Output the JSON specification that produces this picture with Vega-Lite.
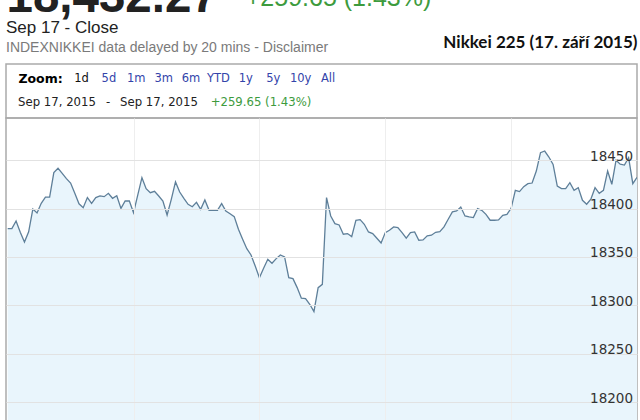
{
  "$schema": "https://vega.github.io/schema/vega-lite/v6.json",
  "background": "white",
  "padding": {"left": 5, "right": 4, "top": -27, "bottom": 0},
  "bounds": "flush",
  "datasets": {
    "nikkei": [
      {"m": 0, "v": 18379.3}, {"m": 2, "v": 18379.3}, {"m": 4, "v": 18387.2}, {"m": 6, "v": 18375.5}, {"m": 8, "v": 18365.5},
      {"m": 10, "v": 18376.0}, {"m": 12, "v": 18399.5}, {"m": 14, "v": 18395.5}, {"m": 16, "v": 18405.5}, {"m": 18, "v": 18412.0},
      {"m": 20, "v": 18412.0}, {"m": 22, "v": 18437.2}, {"m": 24, "v": 18441.7}, {"m": 26, "v": 18436.5}, {"m": 28, "v": 18431.0},
      {"m": 30, "v": 18426.5}, {"m": 32, "v": 18416.0}, {"m": 34, "v": 18405.0}, {"m": 36, "v": 18401.0}, {"m": 38, "v": 18411.4},
      {"m": 40, "v": 18405.5}, {"m": 42, "v": 18411.4}, {"m": 44, "v": 18413.1}, {"m": 46, "v": 18412.4}, {"m": 48, "v": 18415.8},
      {"m": 50, "v": 18410.7}, {"m": 52, "v": 18413.4}, {"m": 54, "v": 18400.3}, {"m": 56, "v": 18407.9}, {"m": 58, "v": 18407.9},
      {"m": 60, "v": 18395.8}, {"m": 62, "v": 18414.0}, {"m": 64, "v": 18432.0}, {"m": 66, "v": 18420.7}, {"m": 68, "v": 18416.5},
      {"m": 70, "v": 18417.9}, {"m": 72, "v": 18413.1}, {"m": 74, "v": 18407.9}, {"m": 76, "v": 18393.4}, {"m": 78, "v": 18409.6},
      {"m": 80, "v": 18427.6}, {"m": 82, "v": 18417.2}, {"m": 84, "v": 18410.7}, {"m": 86, "v": 18404.5}, {"m": 88, "v": 18402.0},
      {"m": 90, "v": 18406.5}, {"m": 92, "v": 18399.3}, {"m": 94, "v": 18409.0}, {"m": 96, "v": 18398.3}, {"m": 98, "v": 18398.3},
      {"m": 100, "v": 18398.3}, {"m": 102, "v": 18405.2}, {"m": 104, "v": 18397.6}, {"m": 106, "v": 18394.8}, {"m": 108, "v": 18391.7},
      {"m": 110, "v": 18378.6}, {"m": 112, "v": 18368.3}, {"m": 114, "v": 18358.6}, {"m": 116, "v": 18352.1}, {"m": 118, "v": 18340.7},
      {"m": 120, "v": 18328.6}, {"m": 122, "v": 18338.3}, {"m": 124, "v": 18347.6}, {"m": 126, "v": 18343.5}, {"m": 128, "v": 18348.3},
      {"m": 130, "v": 18352.1}, {"m": 132, "v": 18350.0}, {"m": 134, "v": 18328.6}, {"m": 136, "v": 18327.6}, {"m": 138, "v": 18318.3},
      {"m": 140, "v": 18307.3}, {"m": 142, "v": 18306.9}, {"m": 144, "v": 18301.1}, {"m": 146, "v": 18293.5}, {"m": 148, "v": 18318.3},
      {"m": 150, "v": 18321.7}, {"m": 152, "v": 18411.4}, {"m": 154, "v": 18392.4}, {"m": 156, "v": 18384.5}, {"m": 158, "v": 18383.1},
      {"m": 160, "v": 18373.5}, {"m": 162, "v": 18374.2}, {"m": 164, "v": 18371.1}, {"m": 166, "v": 18388.0}, {"m": 168, "v": 18388.6},
      {"m": 170, "v": 18383.8}, {"m": 172, "v": 18375.9}, {"m": 174, "v": 18374.2}, {"m": 176, "v": 18369.4}, {"m": 178, "v": 18364.5},
      {"m": 180, "v": 18375.2}, {"m": 182, "v": 18377.6}, {"m": 184, "v": 18381.1}, {"m": 186, "v": 18380.4}, {"m": 188, "v": 18375.2},
      {"m": 190, "v": 18369.4}, {"m": 192, "v": 18375.2}, {"m": 194, "v": 18375.9}, {"m": 196, "v": 18367.3}, {"m": 198, "v": 18367.6},
      {"m": 200, "v": 18371.8}, {"m": 202, "v": 18372.5}, {"m": 204, "v": 18375.5}, {"m": 206, "v": 18376.2}, {"m": 208, "v": 18381.1},
      {"m": 210, "v": 18389.0}, {"m": 212, "v": 18396.6}, {"m": 214, "v": 18397.6}, {"m": 216, "v": 18401.7}, {"m": 218, "v": 18392.4},
      {"m": 220, "v": 18391.4}, {"m": 222, "v": 18390.7}, {"m": 224, "v": 18400.0}, {"m": 226, "v": 18398.3}, {"m": 228, "v": 18394.1},
      {"m": 230, "v": 18388.0}, {"m": 232, "v": 18388.0}, {"m": 234, "v": 18388.3}, {"m": 236, "v": 18393.1}, {"m": 238, "v": 18394.1},
      {"m": 240, "v": 18400.3}, {"m": 242, "v": 18419.0}, {"m": 244, "v": 18417.6}, {"m": 246, "v": 18422.7}, {"m": 248, "v": 18425.8},
      {"m": 250, "v": 18426.5}, {"m": 252, "v": 18438.9}, {"m": 254, "v": 18457.9}, {"m": 256, "v": 18459.6}, {"m": 258, "v": 18453.4},
      {"m": 260, "v": 18445.8}, {"m": 262, "v": 18423.4}, {"m": 264, "v": 18420.7}, {"m": 266, "v": 18420.7}, {"m": 268, "v": 18426.9},
      {"m": 270, "v": 18419.0}, {"m": 272, "v": 18421.7}, {"m": 274, "v": 18408.6}, {"m": 276, "v": 18404.5}, {"m": 278, "v": 18409.7},
      {"m": 280, "v": 18421.7}, {"m": 282, "v": 18415.9}, {"m": 284, "v": 18419.0}, {"m": 286, "v": 18438.9}, {"m": 288, "v": 18425.2},
      {"m": 290, "v": 18450.0}, {"m": 292, "v": 18445.9}, {"m": 294, "v": 18445.1}, {"m": 296, "v": 18452.7}, {"m": 298, "v": 18425.8},
      {"m": 300, "v": 18432.27}
    ]
  },
  "spacing": 0,
  "vconcat": [
    {
      "width": 631,
      "height": 40,
      "view": {"stroke": null},
      "title": {
        "text": "+259.65 (1.43%)",
        "anchor": "middle",
        "dx": 17,
        "offset": -58,
        "baseline": "alphabetic",
        "font": "Liberation Sans",
        "fontSize": 25,
        "fontWeight": "normal",
        "color": "#3d9b3d"
      },
      "data": {"values": [{"k": "price"}]},
      "mark": {"type": "text"},
      "encoding": {
        "x": {
          "field": "k", "type": "nominal",
          "scale": {"type": "point", "padding": 0},
          "axis": {
            "orient": "top", "title": "18,432.27", "titleAnchor": "start",
            "labels": false, "ticks": false, "domain": false, "grid": false,
            "titleFont": "Liberation Sans", "titleFontSize": 47.5, "titleFontWeight": "bold", "titleColor": "#222222",
            "titlePadding": 13, "titleBaseline": "alphabetic"
          }
        },
        "text": {"value": ""}
      }
    },
    {
      "width": 631,
      "height": 54,
      "title": {
        "text": "Sep 17 - Close",
        "subtitle": "INDEXNIKKEI data delayed by 20 mins - Disclaimer",
        "anchor": "start",
        "offset": -22,
        "font": "Liberation Sans",
        "fontSize": 17,
        "fontWeight": "normal",
        "color": "#222222",
        "subtitleFont": "Liberation Sans",
        "subtitleFontSize": 14,
        "subtitleColor": "#7a7a7a",
        "subtitlePadding": 4
      },
      "layer": [
        {
          "data": {"values": [{"row": "zoom", "tok": "Zoom:"}]},
          "mark": {"type": "text", "font": "DejaVu Sans", "fontSize": 12.5, "fontWeight": "bold", "color": "#000000", "align": "center", "baseline": "middle"},
          "encoding": {
            "x": {
              "field": "tok", "type": "nominal",
              "scale": {"type": "point", "padding": 0, "align": 0.0547},
              "axis": {
                "orient": "top", "title": "Nikkei 225 (17. září 2015)", "titleAnchor": "end",
                "labels": false, "ticks": false, "domain": false, "grid": false,
                "titleFont": "Lato", "titleFontSize": 17, "titleFontWeight": "bold", "titleColor": "#111111",
                "titlePadding": 16.5, "titleBaseline": "alphabetic"
              }
            },
            "y": {"field": "row", "type": "nominal", "scale": {"type": "point", "padding": 0, "domain": ["zoom", "date"], "range": [15, 38]}, "axis": null},
            "text": {"field": "tok"}
          }
        },
        {
          "data": {"values": [
            {"row": "zoom", "tok": "1d", "state": "current"},
            {"row": "zoom", "tok": "5d", "state": "link"},
            {"row": "zoom", "tok": "1m", "state": "link"},
            {"row": "zoom", "tok": "3m", "state": "link"},
            {"row": "zoom", "tok": "6m", "state": "link"},
            {"row": "zoom", "tok": "YTD", "state": "link"},
            {"row": "zoom", "tok": "1y", "state": "link"},
            {"row": "zoom", "tok": "5y", "state": "link"},
            {"row": "zoom", "tok": "10y", "state": "link"},
            {"row": "zoom", "tok": "All", "state": "link"}
          ]},
          "mark": {"type": "text", "font": "DejaVu Sans", "fontSize": 11.5, "align": "center", "baseline": "middle"},
          "encoding": {
            "x": {"field": "tok", "type": "nominal", "scale": {"type": "point", "padding": 0, "domain": ["1d", "5d", "1m", "3m", "6m", "YTD", "1y", "5y", "10y", "All"], "range": [75.5, 322]}, "axis": null},
            "y": {"field": "row", "type": "nominal", "scale": {"type": "point", "padding": 0, "domain": ["zoom", "date"], "range": [15, 38]}, "axis": null},
            "text": {"field": "tok"},
            "color": {"field": "state", "type": "nominal", "scale": {"domain": ["current", "link"], "range": ["#111111", "#3344aa"]}, "legend": null}
          }
        },
        {
          "data": {"values": [
            {"row": "date", "part": "from", "label": "Sep 17, 2015"},
            {"row": "date", "part": "dash", "label": "-"},
            {"row": "date", "part": "to", "label": "Sep 17, 2015"},
            {"row": "date", "part": "change", "label": "+259.65 (1.43%)"}
          ]},
          "mark": {"type": "text", "font": "DejaVu Sans", "fontSize": 11.7, "align": "center", "baseline": "middle"},
          "encoding": {
            "x": {"field": "part", "type": "nominal", "scale": {"type": "point", "padding": 0, "domain": ["from", "dash", "to", "gap", "change"], "range": [51, 255]}, "axis": null},
            "y": {"field": "row", "type": "nominal", "scale": {"type": "point", "padding": 0, "domain": ["zoom", "date"], "range": [15, 38]}, "axis": null},
            "text": {"field": "label"},
            "color": {"field": "part", "type": "nominal", "scale": {"domain": ["from", "dash", "to", "change"], "range": ["#222222", "#222222", "#222222", "#3d9b3d"]}, "legend": null}
          }
        }
      ],
      "resolve": {"scale": {"x": "independent", "color": "independent"}}
    },
    {
      "width": 631,
      "height": 305,
      "encoding": {
        "x": {
          "field": "m", "type": "quantitative",
          "scale": {"domain": [-0.8, 300], "nice": false, "zero": false},
          "axis": {"orient": "bottom", "values": [60, 120, 180, 240], "grid": true, "gridColor": "#eeeeee", "labels": false, "ticks": false, "domain": false, "title": null, "zindex": 1}
        },
        "y": {
          "field": "v", "type": "quantitative",
          "scale": {"domain": [18178.28, 18493.75], "nice": false, "zero": false},
          "axis": {
            "orient": "right", "values": [18200, 18250, 18300, 18350, 18400, 18450], "format": "d",
            "grid": true, "gridColor": "#e2e2e2", "ticks": false, "tickSize": 0, "domain": false,
            "labelAlign": "right", "labelBaseline": "alphabetic", "labelPadding": -4.5,
            "labelFont": "DejaVu Sans", "labelFontSize": 13.5, "labelColor": "#333333",
            "labelFlush": false, "labelOverlap": false, "title": null, "zindex": 1
          }
        }
      },
      "layer": [
        {"data": {"name": "nikkei"}, "mark": {"type": "area", "color": "#e9f5fc", "clip": true}},
        {"data": {"name": "nikkei"}, "mark": {"type": "line", "color": "#5e7f99", "strokeWidth": 1.3, "clip": true}},
        {
          "data": {"values": [{"button": "Y"}]},
          "mark": {"type": "square", "size": 441, "filled": true, "color": "#f7f7f7", "stroke": "#9a9a9a", "strokeWidth": 1, "opacity": 1},
          "encoding": {"x": {"datum": 5.16}, "y": {"datum": 18193.3}}
        },
        {
          "data": {"values": [{"button": "Y"}]},
          "mark": {"type": "text", "font": "DejaVu Sans", "fontSize": 14, "fontWeight": "bold", "color": "#222222", "align": "center", "baseline": "middle"},
          "encoding": {"x": {"datum": 5.16}, "y": {"datum": 18193.3}, "text": {"field": "button"}}
        },
        {
          "data": {"values": [{"button": "G"}]},
          "mark": {"type": "square", "size": 441, "filled": true, "color": "#f7f7f7", "stroke": "#9a9a9a", "strokeWidth": 1, "opacity": 1},
          "encoding": {"x": {"datum": 295.5}, "y": {"datum": 18188.1}}
        },
        {
          "data": {"values": [{"button": "G"}]},
          "mark": {"type": "text", "font": "DejaVu Sans", "fontSize": 14, "fontWeight": "bold", "color": "#222222", "align": "center", "baseline": "middle"},
          "encoding": {"x": {"datum": 295.5}, "y": {"datum": 18188.1}, "text": {"field": "button"}}
        }
      ]
    }
  ],
  "config": {
    "view": {"stroke": "#ababab", "strokeWidth": 1.5}
  }
}
